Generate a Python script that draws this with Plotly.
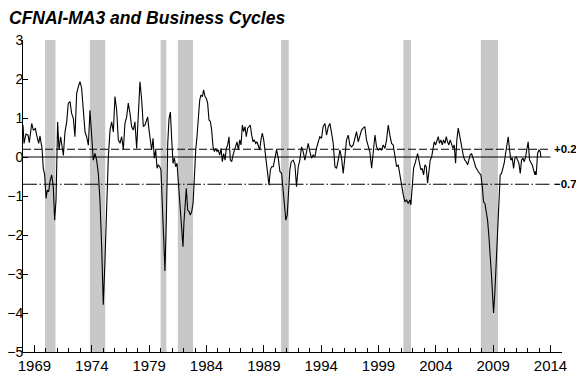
import plotly.graph_objects as go

# ---- data (decimal years, CFNAI three-month moving average) ----
years = [
    1968.00, 1968.09, 1968.26, 1968.44, 1968.55, 1968.76, 1968.90, 1969.08, 1969.19, 1969.37,
    1969.48, 1969.66, 1969.77, 1969.89, 1970.01, 1970.12, 1970.24, 1970.35, 1970.50, 1970.64,
    1970.76, 1970.88, 1971.02, 1971.14, 1971.28, 1971.40, 1971.52, 1971.66, 1971.81, 1971.95,
    1972.10, 1972.24, 1972.39, 1972.53, 1972.68, 1972.82, 1972.97, 1973.11, 1973.26, 1973.41,
    1973.55, 1973.70, 1973.84, 1973.99, 1974.13, 1974.28, 1974.42, 1974.57, 1974.71, 1974.86,
    1975.00, 1975.15, 1975.29, 1975.44, 1975.59, 1975.73, 1975.88, 1976.02, 1976.17, 1976.31,
    1976.46, 1976.60, 1976.75, 1976.89, 1977.04, 1977.18, 1977.33, 1977.47, 1977.62, 1977.76,
    1977.91, 1978.06, 1978.20, 1978.35, 1978.49, 1978.64, 1978.87, 1978.99, 1979.11, 1979.22,
    1979.34, 1979.45, 1979.57, 1979.69, 1979.80, 1979.92, 1980.03, 1980.15, 1980.27, 1980.38,
    1980.50, 1980.62, 1980.73, 1980.85, 1980.97, 1981.08, 1981.20, 1981.31, 1981.43, 1981.55,
    1981.66, 1981.78, 1981.95, 1982.03, 1982.13, 1982.24, 1982.36, 1982.48, 1982.59, 1982.71,
    1982.83, 1982.94, 1983.06, 1983.17, 1983.29, 1983.41, 1983.52, 1983.64, 1983.75, 1983.87,
    1983.99, 1984.10, 1984.22, 1984.34, 1984.45, 1984.57, 1984.69, 1984.80, 1984.92, 1985.03,
    1985.15, 1985.27, 1985.38, 1985.50, 1985.62, 1985.73, 1985.85, 1985.96, 1986.08, 1986.20,
    1986.31, 1986.43, 1986.55, 1986.66, 1986.78, 1986.90, 1987.01, 1987.13, 1987.24, 1987.36,
    1987.47, 1987.59, 1987.71, 1987.82, 1987.94, 1988.06, 1988.17, 1988.29, 1988.40, 1988.52,
    1988.64, 1988.75, 1988.87, 1988.99, 1989.10, 1989.22, 1989.33, 1989.45, 1989.57, 1989.68,
    1989.82, 1989.97, 1990.11, 1990.26, 1990.40, 1990.55, 1990.69, 1990.81, 1990.92, 1991.04,
    1991.15, 1991.27, 1991.39, 1991.56, 1991.71, 1991.85, 1992.00, 1992.14, 1992.29, 1992.43,
    1992.58, 1992.72, 1992.87, 1993.01, 1993.16, 1993.30, 1993.45, 1993.59, 1993.74, 1993.88,
    1994.03, 1994.17, 1994.33, 1994.47, 1994.62, 1994.76, 1994.91, 1995.05, 1995.20, 1995.34,
    1995.49, 1995.63, 1995.78, 1995.92, 1996.07, 1996.21, 1996.36, 1996.50, 1996.65, 1996.79,
    1996.94, 1997.08, 1997.23, 1997.37, 1997.52, 1997.66, 1997.81, 1997.95, 1998.10, 1998.24,
    1998.40, 1998.54, 1998.69, 1998.83, 1998.98, 1999.12, 1999.27, 1999.41, 1999.56, 1999.70,
    1999.85, 1999.99, 2000.14, 2000.28, 2000.43, 2000.58, 2000.72, 2000.87, 2001.01, 2001.16,
    2001.30, 2001.45, 2001.59, 2001.74, 2001.82, 2001.94, 2002.06, 2002.23, 2002.41, 2002.52,
    2002.70, 2002.81, 2002.93, 2003.05, 2003.16, 2003.28, 2003.39, 2003.51, 2003.63, 2003.74,
    2003.86, 2003.98, 2004.09, 2004.21, 2004.32, 2004.44, 2004.56, 2004.67, 2004.79, 2004.91,
    2005.02, 2005.14, 2005.25, 2005.37, 2005.49, 2005.60, 2005.72, 2005.83, 2005.95, 2006.07,
    2006.18, 2006.30, 2006.42, 2006.53, 2006.65, 2006.77, 2006.88, 2006.99, 2007.11, 2007.23,
    2007.34, 2007.46, 2007.58, 2007.70, 2007.81, 2007.93, 2008.05, 2008.16, 2008.28, 2008.39,
    2008.51, 2008.63, 2008.74, 2008.86, 2008.97, 2009.03, 2009.14, 2009.26, 2009.38, 2009.50,
    2009.61, 2009.73, 2009.85, 2009.96, 2010.08, 2010.19, 2010.31, 2010.43, 2010.54, 2010.66,
    2010.78, 2010.89, 2011.01, 2011.13, 2011.24, 2011.36, 2011.47, 2011.59, 2011.71, 2011.82,
    2011.94, 2012.05, 2012.17, 2012.29, 2012.40, 2012.52, 2012.64, 2012.69, 2012.75, 2012.87,
    2012.99, 2013.10, 2013.16,
]
cfnai_ma3 = [
    0.82, 0.35, 0.59, 0.56, 0.37, 0.86, 0.69, 0.73, 0.56, 0.35,
    0.54, 0.22, -0.29, -0.46, -1.06, -0.85, -0.89, -0.63, -0.46, -0.76,
    -1.62, -1.10, 0.90, 0.18, 0.52, 0.26, 0.04, 0.64, 0.90, 1.38,
    1.42, 1.12, 0.99, 0.52, 1.63, 1.80, 1.93, 1.77, 1.12, 0.64,
    0.52, 0.30, 1.20, 0.60, -0.08, 0.09, -0.08, -0.43, -1.10, -2.30,
    -3.79, -2.65, -1.10, 0.00, 0.69, 0.90, 0.64, 1.55, 1.20, 0.44,
    0.35, 0.52, 0.20, 0.86, 1.03, 1.38, 1.12, 0.78, 0.69, 0.90,
    0.22, 0.95, 1.93, 1.46, 0.78, 0.82, 1.03, 0.69, 0.48, 0.18,
    0.48, -0.03, 0.18, -0.29, -0.20, -0.25, -0.33, -1.27, -2.30, -2.92,
    -1.62, 0.35, 0.97, 1.15, 0.44, -0.16, -0.03, -0.25, -0.16, -0.67,
    -1.10, -1.79, -2.30, -1.70, -1.10, -0.80, -1.36, -1.40, -1.49, -1.40,
    -1.19, -0.33, 0.18, 0.52, 1.03, 1.46, 1.59, 1.55, 1.72, 1.55,
    1.50, 1.38, 0.95, 0.91, 0.69, 0.26, 0.14, 0.22, 0.14, 0.18,
    0.05, 0.22, -0.12, 0.09, -0.08, 0.22, 0.31, 0.52, -0.08, -0.12,
    0.05, 0.18, 0.26, 0.39, 0.18, 0.44, 0.31, 0.82, 0.65, 0.78,
    0.52, 0.74, 0.78, 0.82, 0.56, 0.39, 0.44, 0.35, 0.39, 0.26,
    0.18, 0.44, 0.61, 0.44, 0.18, -0.12, -0.29, -0.72, -0.33, -0.25,
    -0.25, -0.03, 0.18, -0.03, -0.37, -0.42, -0.93, -1.44, -1.62, -1.49,
    -0.93, -0.33, -0.12, -0.08, -0.20, -0.76, -0.25, -0.08, 0.26, 0.14,
    -0.08, 0.18, 0.35, 0.14, -0.03, 0.05, 0.00, 0.22, 0.39, 0.52,
    0.48, 0.78, 0.86, 0.56, 0.78, 0.86, 0.61, 0.35, -0.25, -0.29,
    -0.08, 0.18, -0.03, -0.42, 0.00, 0.44, 0.56, 0.31, 0.26, 0.31,
    0.48, 0.65, 0.39, 0.56, 0.69, 0.74, 0.78, 0.44, 0.31, 0.14,
    -0.29, 0.05, 0.56, 0.26, 0.18, 0.22, 0.18, 0.31, 0.22, 0.44,
    0.82, 0.56, 0.35, 0.31, 0.00, -0.25, -0.20, -0.46, -0.80, -0.97,
    -1.15, -1.10, -1.19, -1.10, -1.23, -0.76, -0.29, -0.12, 0.09, -0.08,
    -0.33, -0.29, -0.46, -0.20, -0.25, -0.67, -0.33, -0.08, 0.00, 0.18,
    0.39, 0.31, 0.44, 0.52, 0.35, 0.44, 0.31, 0.44, 0.35, 0.52,
    0.39, 0.31, 0.44, 0.31, 0.22, 0.31, -0.16, 0.44, 0.74, 0.56,
    0.35, 0.18, 0.00, -0.08, -0.12, -0.20, -0.08, 0.05, 0.09, 0.00,
    -0.12, -0.25, -0.33, -0.37, -0.42, -0.46, -0.76, -1.15, -1.19, -1.36,
    -1.62, -2.05, -2.47, -3.07, -3.67, -4.00, -3.50, -2.81, -1.79, -1.10,
    -0.46, -0.42, -0.29, -0.16, 0.09, 0.26, 0.52, 0.18, -0.08, -0.03,
    -0.29, -0.03, 0.00, -0.08, -0.16, -0.42, -0.08, -0.03, -0.12, 0.00,
    0.18, 0.39, -0.08, -0.16, -0.20, -0.33, -0.46, -0.37, -0.46, 0.09,
    0.18, 0.14, 0.00,
]

# NBER recessions (peak, trough) in decimal years
recession_start = [1969.92, 1973.83, 1980.00, 1981.50, 1990.50, 2001.17, 2007.92]
recession_end = [1970.83, 1975.17, 1980.50, 1982.83, 1991.17, 2001.83, 2009.42]

x_tick_years = [1969, 1974, 1979, 1984, 1989, 1994, 1999, 2004, 2009, 2014]
y_ticks = [3, 2, 1, 0, -1, -2, -3, -4, -5]
y_tick_text = ["3", "2", "1", "0", "\u22121", "\u22122", "\u22123", "\u22124", "\u22125"]

ref_levels = [0.2, -0.7]
ref_labels = ["+0.2", "\u22120.7"]

X_MIN, X_MAX = 1968.0, 2015.0
REF_END = 2014.0

FONT = "Liberation Sans Narrow, Arial Narrow, Liberation Sans, Arial, sans-serif"

fig = go.Figure()
fig.add_trace(go.Scatter(x=years, y=cfnai_ma3, mode="lines",
                         line=dict(color="black", width=1.1),
                         hoverinfo="skip", showlegend=False))

shapes = []
for s, e in zip(recession_start, recession_end):
    shapes.append(dict(type="rect", xref="x", yref="y", x0=s, x1=e, y0=-5, y1=3,
                       fillcolor="#c8c8c8", line=dict(width=0), layer="below"))
shapes.append(dict(type="line", xref="x", yref="y", x0=X_MIN, x1=REF_END, y0=0, y1=0,
                   line=dict(color="black", width=1.1), layer="below"))
shapes.append(dict(type="line", xref="x", yref="y", x0=X_MIN, x1=REF_END,
                   y0=ref_levels[0], y1=ref_levels[0],
                   line=dict(color="black", width=1.1, dash="8px,3px"), layer="below"))
shapes.append(dict(type="line", xref="x", yref="y", x0=X_MIN, x1=REF_END,
                   y0=ref_levels[1], y1=ref_levels[1],
                   line=dict(color="black", width=1.1, dash="14px,2.5px,1.5px,2.5px"), layer="below"))

annotations = []
for lvl, txt in zip(ref_levels, ref_labels):
    annotations.append(dict(x=REF_END, y=lvl, xref="x", yref="y", text="<b>" + txt + "</b>",
                            showarrow=False, xanchor="left", yanchor="middle", xshift=1,
                            font=dict(family="Liberation Sans, Arial, sans-serif", size=11.5, color="black")))

# The page body adds an 8px margin, so the figure is 576x368 and margins are offset by 8px.
fig.update_layout(
    width=576, height=368,
    margin=dict(l=15, r=22, t=32, b=24, autoexpand=False),
    paper_bgcolor="white", plot_bgcolor="white",
    showlegend=False,
    title=dict(text="<b><i>CFNAI-MA3 and Business Cycles</i></b>",
               x=1 / 576, xanchor="left", xref="container",
               y=1 - 9.5 / 368, yanchor="middle", yref="container", automargin=False,
               font=dict(family="Liberation Sans, Arial, sans-serif", size=17.5, color="black")),
    shapes=shapes,
    annotations=annotations,
    xaxis=dict(range=[X_MIN, X_MAX], tickvals=x_tick_years,
               ticktext=[str(v) for v in x_tick_years], automargin=False,
               ticks="inside", ticklen=7, tickwidth=1, tickcolor="black",
               showline=True, linecolor="black", linewidth=1,
               showgrid=False, zeroline=False,
               minor=dict(tickvals=list(range(1968, 2016)), ticks="inside", ticklen=4,
                          tickwidth=1, tickcolor="black", showgrid=False),
               tickfont=dict(family=FONT, size=15, color="black")),
    yaxis=dict(range=[-5, 3], tickvals=y_ticks, ticktext=y_tick_text, automargin=False,
               ticks="inside", ticklen=5, tickwidth=1, tickcolor="black",
               showline=True, linecolor="black", linewidth=1,
               showgrid=False, zeroline=False, ticklabelstandoff=-4,
               tickfont=dict(family=FONT, size=14, color="black")),
)

fig.write_html("out.html")
